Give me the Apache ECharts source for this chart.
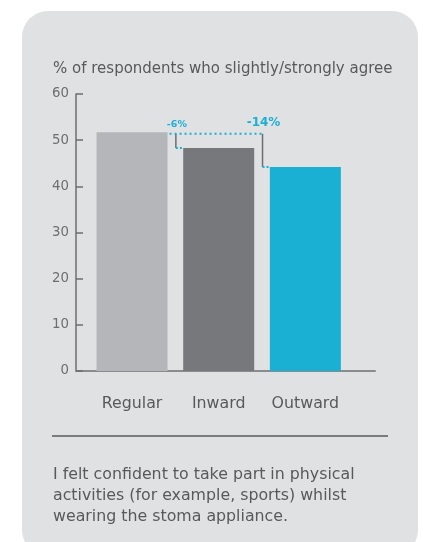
<!DOCTYPE html>
<html>
<head>
<meta charset="utf-8">
<script src="https://cdn.jsdelivr.net/npm/echarts@6/dist/echarts.min.js"></script>
<style>
  html, body { margin: 0; padding: 0; background: #ffffff; }
  #panel {
    position: absolute; left: 22px; top: 11px; width: 396px; height: 545px;
    background: #e0e1e3; border-radius: 26px;
  }
  #grafico { position: absolute; left: 0; top: 0; width: 423px; height: 542px; }
</style>
</head>
<body>
<div id="panel"></div>
<div id="grafico"></div>
<script>
// datos
const categorias = ['Regular', 'Inward', 'Outward']
const valores = [51.7, 48.3, 44.2]
const colores = ['#b5b6b9', '#77787c', '#1ab0d3']
const diferencias = ['-6%', '-14%']
const ticksY = [0, 10, 20, 30, 40, 50, 60]

const titulo = '% of respondents who slightly/strongly agree'
const pie = [
  'I felt confident to take part in physical',
  'activities (for example, sports) whilst',
  'wearing the stoma appliance.'
]

const fuente = '"DejaVu Sans"'
const gris = '#58595b'
const cian = '#1ab0d3'

const chart = echarts.init(document.getElementById('grafico'))

const option = {
  animation: false,
  textStyle: { fontFamily: fuente },
  title: {
    text: titulo,
    left: 53, top: 62, padding: 0,
    textStyle: { fontFamily: fuente, fontSize: 15, fontWeight: 'normal', color: gris }
  },
  grid: [
    { left: 88.7, width: 260, top: 94, bottom: 171 },
    { left: 76, width: 299, top: 94, bottom: 171 }
  ],
  xAxis: [
    {
      type: 'category',
      gridIndex: 0,
      data: categorias,
      axisLine: { show: false },
      axisTick: { show: false },
      axisLabel: { interval: 0, fontSize: 15.8, color: gris, margin: 25, fontFamily: fuente }
    },
    {
      type: 'value',
      gridIndex: 1,
      min: 0, max: 1,
      axisLine: { show: true, lineStyle: { color: '#8a8b8d', width: 2 } },
      axisTick: { show: false },
      axisLabel: { show: false },
      splitLine: { show: false }
    }
  ],
  yAxis: [
    {
      type: 'value',
      gridIndex: 0,
      min: ticksY[0], max: ticksY[ticksY.length - 1], interval: 10,
      offset: 12.7,
      axisLine: { show: true, lineStyle: { color: '#6d6e70', width: 1.5 } },
      axisTick: { show: true, inside: true, length: 7, lineStyle: { color: '#6d6e70', width: 1.5 } },
      axisLabel: { fontSize: 13.3, color: '#6d6e70', margin: 7, fontFamily: fuente },
      splitLine: { show: false }
    },
    { type: 'value', gridIndex: 1, show: false, min: 0, max: 1 }
  ],
  series: [
    {
      type: 'bar',
      xAxisIndex: 0, yAxisIndex: 0,
      barWidth: 71,
      data: valores.map((v, i) => ({ value: v, itemStyle: { color: colores[i] } }))
    }
  ]
}

chart.setOption(option)

// anotaciones de diferencia entre barras
const anchoBarra = 71
const xCentro = categorias.map(c => chart.convertToPixel({ xAxisIndex: 0 }, c))
const yTope = valores.map(v => chart.convertToPixel({ yAxisIndex: 0 }, v))
const graficos = []
const yRef = yTope[0] + 1.5
const xIni = xCentro[0] + anchoBarra / 2 + 2

let xFin = xIni
for (let i = 1; i < categorias.length; i++) {
  const xIzq = xCentro[i] - anchoBarra / 2
  const xDer = xCentro[i - 1] + anchoBarra / 2
  const xMed = (xIzq + xDer) / 2 + 0.5
  xFin = Math.max(xFin, xMed)
  // linea vertical gris
  graficos.push({
    type: 'line',
    shape: { x1: xMed, y1: yRef, x2: xMed, y2: yTope[i] },
    style: { stroke: '#6d6e70', lineWidth: 1.5 }
  })
  // punteado corto hacia la barra
  graficos.push({
    type: 'line',
    shape: { x1: xMed, y1: yTope[i], x2: xIzq, y2: yTope[i] },
    style: { stroke: cian, lineWidth: 2, lineDash: [2, 2] }
  })
  graficos.push({
    type: 'text',
    x: xMed + 1, y: i === 1 ? yRef - 9 : yRef - 11,
    style: {
      text: diferencias[i - 1],
      fill: cian,
      font: 'bold ' + (i === 1 ? 9.5 : 12) + 'px ' + fuente,
      align: 'center',
      verticalAlign: 'middle'
    }
  })
}
graficos.push({
  type: 'line',
  shape: { x1: xIni, y1: yRef, x2: xFin + 1, y2: yRef },
  style: { stroke: cian, lineWidth: 2, lineDash: [2, 3] }
})

// separador y texto inferior
graficos.push({
  type: 'line',
  shape: { x1: 52, y1: 436, x2: 388, y2: 436 },
  style: { stroke: '#58595b', lineWidth: 1.5 }
})
pie.forEach((linea, i) => {
  graficos.push({
    type: 'text',
    x: 53, y: 475 + i * 21,
    style: {
      text: linea,
      fill: gris,
      font: '15.8px ' + fuente,
      verticalAlign: 'middle'
    }
  })
})

chart.setOption({ graphic: graficos })
</script>
</body>
</html>
